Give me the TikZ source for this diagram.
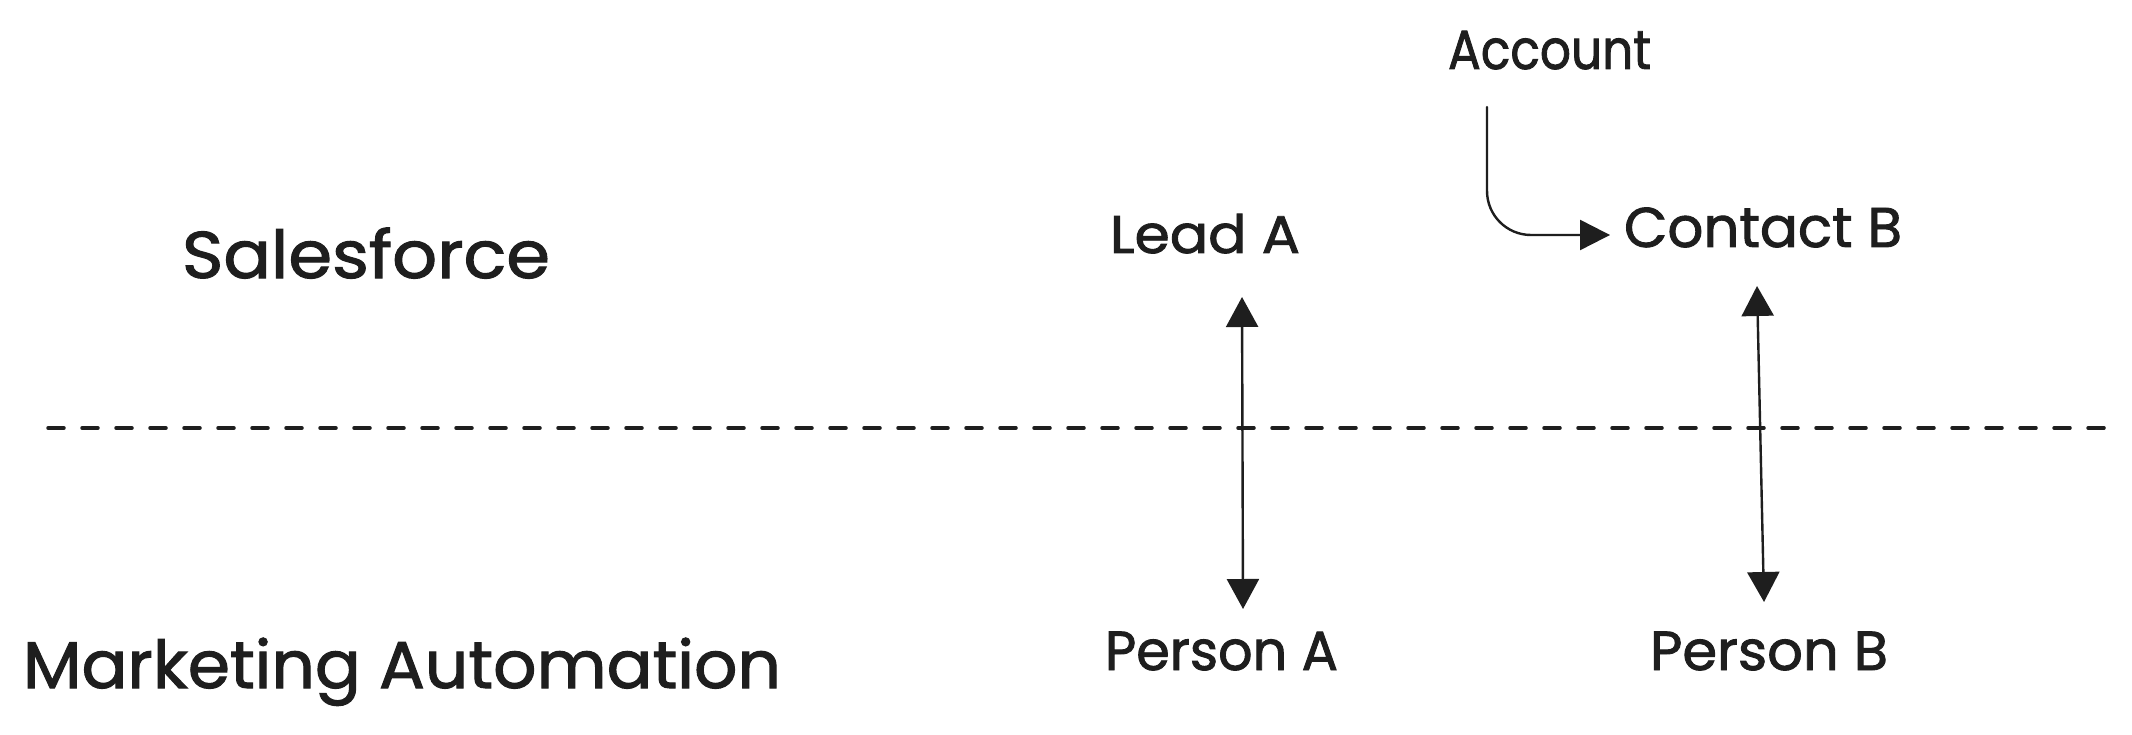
\documentclass[tikz,border=0pt]{standalone}
\usepackage{fontspec}
\setmainfont{Poppins}[RawFeature={embolden=1.6}]
\usepackage{graphicx}
\usetikzlibrary{arrows.meta}
\definecolor{ink}{HTML}{1E1E1E}
\newcommand{\fitw}[3]{\resizebox{#1}{\height}{\fontsize{#2}{#2}\selectfont #3}}
\tikzset{
  lbl/.style={anchor=base west, inner sep=0pt, outer sep=0pt, text=ink},
  conn/.style={draw=ink, line width=2.4pt, line cap=round,
    -{Triangle[length=30pt,width=30pt]}},
  biconn/.style={draw=ink, line width=2.4pt, line cap=round,
    {Triangle[length=30pt,width=32pt]}-{Triangle[length=30pt,width=32pt]}},
  divider/.style={draw=ink, line width=3.5pt, line cap=round, dash pattern=on 16pt off 18pt}
}
\begin{document}
\begin{tikzpicture}[x=1pt,y=1pt]
\useasboundingbox[fill=white] (0,0) rectangle (2132,-735);

\node[lbl] (sf) at (182,-278) {\fitw{368pt}{66pt}{Salesforce}};
\node[lbl] (ma) at (23,-688) {\fitw{758pt}{66pt}{Marketing Automation}};
\node[lbl] (leadA) at (1110,-253) {\fitw{190pt}{53pt}{Lead A}};
\node[lbl] (account) at (1448,-69) {\fitw{203pt}{55pt}{Account}};
\node[lbl] (contactB) at (1624,-247) {\fitw{278pt}{56pt}{Contact B}};
\node[lbl] (personA) at (1105,-670) {\fitw{233pt}{55pt}{Person A}};
\node[lbl] (personB) at (1650,-670) {\fitw{238pt}{55pt}{Person B}};

\coordinate (divL) at (48,-428);
\coordinate (divR) at (2107,-428);
\draw[divider] (divL) -- (divR);

\draw[biconn] ([shift={(37,-44)}]leadA.base) -- ([shift={(21.5,61)}]personA.base);
\draw[biconn] ([shift={(-6,-39)}]contactB.base) -- ([shift={(-5,68)}]personB.base);
\draw[conn, rounded corners=44pt] ([shift={(-62.5,-38)}]account.base) |- ([shift={(-153,12)}]contactB.base);
\end{tikzpicture}
\end{document}
